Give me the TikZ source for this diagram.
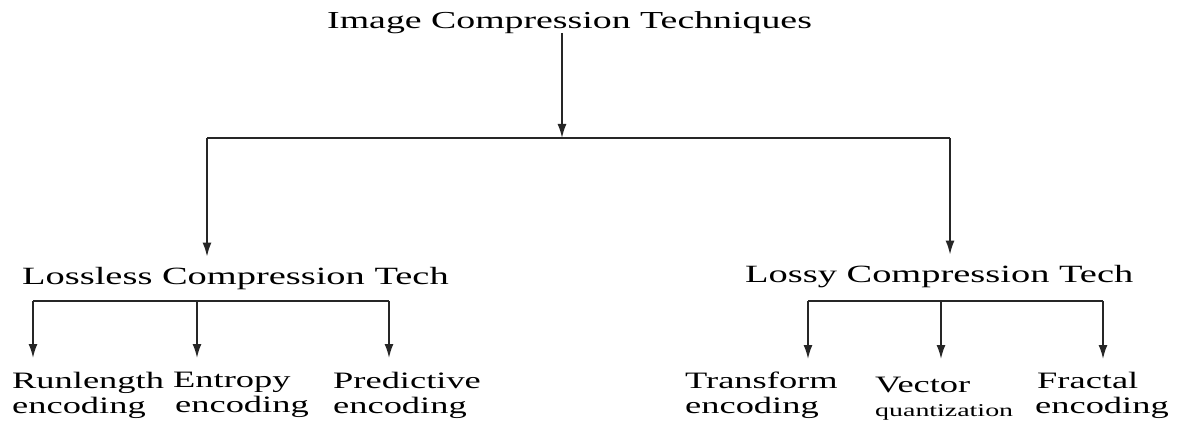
\documentclass[tikz,border=0pt]{standalone}
\usepackage{fontspec}
\setmainfont{Liberation Serif}[FakeStretch=1.55]
\usetikzlibrary{arrows.meta,positioning}

\begin{document}
\begin{tikzpicture}[x=1pt,y=-1pt,
  lbl/.style={anchor=base west,inner sep=0pt,align=left,
    font=\fontsize{23.5}{25}\selectfont},
  head/.style={lbl,font=\fontsize{24.8}{26}\selectfont},
  arr/.style={-{Latex[length=14pt,width=9pt]},line width=1.7pt,black!85},
  bar/.style={line width=1.7pt,black!85}]
  \useasboundingbox (0,0) rectangle (1177,425);
  % top level
  \node[head,font=\fontsize{24.4}{26}\selectfont] (title) at (327,29) {Image Compression Techniques};
  \coordinate (j0) at (562,138);
  \coordinate (jl) at (207,138);
  \coordinate (jr) at (950,138);
  \draw[arr] (j0 |- 0,33) -- (j0);
  \draw[bar] (jl) -- (jr);
  % second level
  \node[head] (lossless) at (22,284) {Lossless Compression Tech};
  \node[head] (lossy) at (745,282) {Lossy Compression Tech};
  \draw[arr] (jl) -- ([yshift=10pt]jl |- lossless.north);
  \draw[arr] (jr) -- ([yshift=10pt]jr |- lossy.north);
  % leaves, lossless side (base = last line)
  \node[lbl] (run) at (12,413) {Runlength\\encoding};
  \node[lbl] (ent) at (173,412) {Entropy\\\hspace*{2pt}encoding};
  \node[lbl] (pred) at (333,413) {Predictive\\encoding};
  \coordinate (a1) at (33,301);
  \coordinate (a2) at (197,301);
  \coordinate (a3) at (389,301);
  \draw[bar] (a1) -- (a3);
  \foreach \c in {a1,a2,a3}
    \draw[arr] (\c) -- (\c |- 0,358);
  % leaves, lossy side
  \node[lbl] (trans) at (685,413) {Transform\\encoding};
  \node[lbl] (vec) at (875,416) {Vector\\[-1pt]{\fontsize{18}{20}\selectfont quantization}};
  \node[lbl] (frac) at (1037,413) {Fractal\\\hspace*{-2pt}encoding};
  \coordinate (b1) at (808,301);
  \coordinate (b2) at (941,301);
  \coordinate (b3) at (1103,301);
  \draw[bar] (b1) -- (b3);
  \foreach \c in {b1,b2,b3}
    \draw[arr] (\c) -- (\c |- 0,359);
\end{tikzpicture}
\end{document}
